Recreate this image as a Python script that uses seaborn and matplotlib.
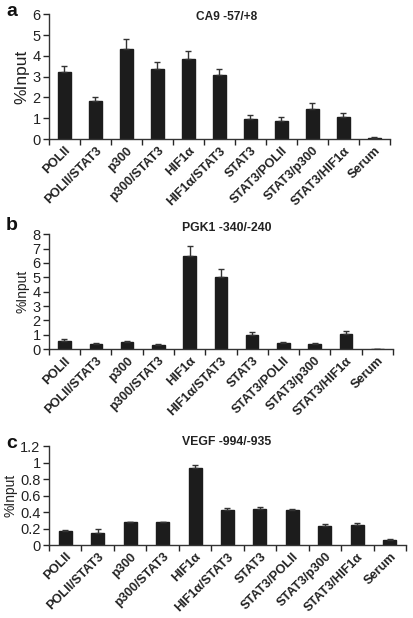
import numpy as np
import pandas as pd
import matplotlib
matplotlib.use("Agg")
import matplotlib.pyplot as plt
import seaborn as sns

categories = ["POLII", "POLII/STAT3", "p300", "p300/STAT3", "HIF1\u03b1", "HIF1\u03b1/STAT3",
              "STAT3", "STAT3/POLII", "STAT3/p300", "STAT3/HIF1\u03b1", "Serum"]

ca9_vals = [3.2, 1.85, 4.35, 3.35, 3.85, 3.08, 0.97, 0.87, 1.43, 1.07, 0.07]
ca9_err = [0.3, 0.17, 0.45, 0.33, 0.38, 0.3, 0.18, 0.17, 0.28, 0.18, 0.02]

pgk1_vals = [0.6, 0.38, 0.47, 0.32, 6.5, 5.05, 1.0, 0.45, 0.38, 1.05, 0.03]
pgk1_err = [0.12, 0.06, 0.08, 0.07, 0.65, 0.5, 0.2, 0.07, 0.06, 0.22, 0.01]

vegf_vals = [0.17, 0.15, 0.28, 0.28, 0.93, 0.43, 0.44, 0.42, 0.23, 0.24, 0.06]
vegf_err = [0.01, 0.04, 0.004, 0.005, 0.04, 0.02, 0.02, 0.02, 0.03, 0.03, 0.01]

titles = ["CA9 -57/+8", "PGK1 -340/-240", "VEGF -994/-935"]
panel_labels = ["a", "b", "c"]
ylims = [6, 8, 1.2]
yticks = [[0, 1, 2, 3, 4, 5, 6], [0, 1, 2, 3, 4, 5, 6, 7, 8],
          [0, 0.2, 0.4, 0.6, 0.8, 1, 1.2]]
yticklabels = [["0", "1", "2", "3", "4", "5", "6"],
               ["0", "1", "2", "3", "4", "5", "6", "7", "8"],
               ["0", "0.2", "0.4", "0.6", "0.8", "1", "1.2"]]

sns.set_style("ticks")
plt.rcParams["font.family"] = ["Liberation Sans", "DejaVu Sans"]

W, H = 414, 618
fig = plt.figure(figsize=(W / 100, H / 100), dpi=100)
positions = [
    [0.118, 0.775, 0.824, 0.202],
    [0.118, 0.435, 0.831, 0.186],
    [0.118, 0.118, 0.863, 0.160],
]
# title / panel-label pixel positions (from top)
title_y = [17, 228, 442]
label_y = [12, 226, 444]
ylabel_size = [12.5, 10, 10]
title_size = [8.6, 8.8, 8.8]

data = [(ca9_vals, ca9_err), (pgk1_vals, pgk1_err), (vegf_vals, vegf_err)]
barcol = "#1c1c1c"

for i in range(3):
    ax = fig.add_axes(positions[i])
    vals, err = data[i]
    df = pd.DataFrame({"cat": categories, "val": vals})
    sns.barplot(data=df, x="cat", y="val", color=barcol, width=0.4,
                saturation=1, ax=ax, edgecolor=barcol)
    x = np.arange(len(categories))
    ax.errorbar(x, vals, yerr=[np.zeros(len(vals)), err], fmt="none",
                ecolor="#333333", elinewidth=1.0, capsize=2.5, capthick=1.0)
    ax.set_xlim(-0.5, len(categories) - 0.5)
    ax.set_ylim(0, ylims[i])
    ax.set_yticks(yticks[i])
    ax.set_yticklabels(yticklabels[i], fontsize=10.5, color="#222222")
    ax.set_xticks(x)
    ax.set_xticklabels(categories, rotation=45, ha="right", rotation_mode="anchor",
                       fontsize=9.2, fontweight="bold", color="#222222")
    ax.set_xticks(np.arange(-0.5, len(categories) + 0.5, 1.0), minor=True)
    ax.tick_params(axis="x", which="major", length=0, pad=4)
    ax.tick_params(axis="x", which="minor", length=4, width=1, direction="out")
    ax.tick_params(axis="y", length=4, width=1, pad=2)
    ax.set_xlabel("")
    ax.set_ylabel("%Input", fontsize=ylabel_size[i], color="#222222", labelpad=2)
    for s in ["top", "right"]:
        ax.spines[s].set_visible(False)
    for s in ["left", "bottom"]:
        ax.spines[s].set_linewidth(1.0)
        ax.spines[s].set_color("#333333")
    fig.text(227 / W, 1 - title_y[i] / H, titles[i], fontsize=title_size[i],
             fontweight="bold", color="#222222", ha="center", va="center")
    fig.text(12 / W, 1 - label_y[i] / H, panel_labels[i],
             fontsize=14, fontweight="bold", color="#111111", ha="center", va="center")

fig.savefig("out.png", dpi=100)
